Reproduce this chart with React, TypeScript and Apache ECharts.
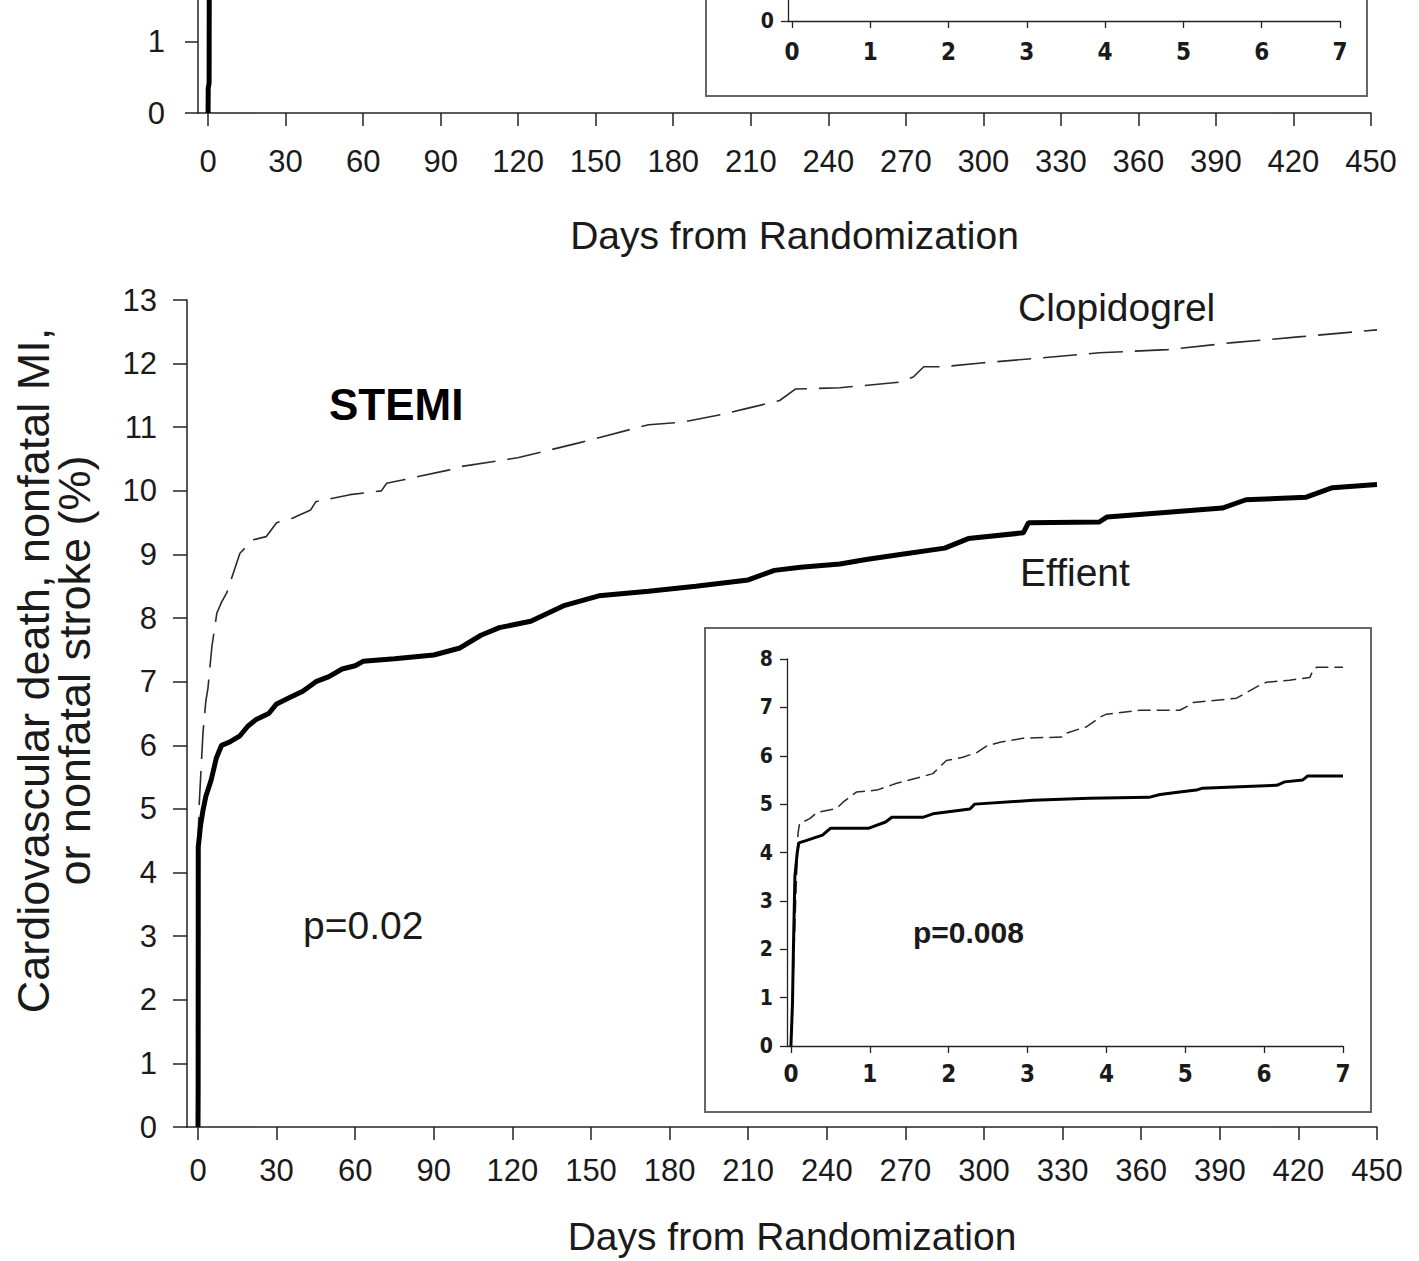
import React, { useEffect, useRef } from "react";
import * as echarts from "echarts";

// ---------- data (days, cumulative event rate %) ----------
const mainXTicks = [0, 30, 60, 90, 120, 150, 180, 210, 240, 270, 300, 330, 360, 390, 420, 450];
const mainYTicks = [0, 1, 2, 3, 4, 5, 6, 7, 8, 9, 10, 11, 12, 13];
const insetXTicks = [0, 1, 2, 3, 4, 5, 6, 7];
const insetYTicks = [0, 1, 2, 3, 4, 5, 6, 7, 8];
const topYTicks = [0, 1];
const topInsetYTicks = [0];

const effientMain: [number, number][] = [
  [0, 0], [0.05, 0.6], [0.1, 4.4], [1, 4.75], [2, 5.0], [3, 5.2], [5, 5.45], [7, 5.8], [9, 6.0],
  [12, 6.05], [16, 6.15], [19, 6.3], [22, 6.4], [27, 6.5], [30, 6.65], [35, 6.75], [40, 6.85],
  [45, 7.0], [50, 7.08], [55, 7.2], [60, 7.25], [63, 7.32], [75, 7.36], [90, 7.42], [100, 7.53],
  [108, 7.73], [115, 7.85], [127, 7.95], [140, 8.2], [153, 8.35], [172, 8.42], [190, 8.5],
  [210, 8.6], [220, 8.75], [230, 8.8], [245, 8.85], [255, 8.92], [268, 9.0], [285, 9.1],
  [294, 9.25], [315, 9.34], [317, 9.5], [344, 9.51], [347, 9.59], [391, 9.73], [400, 9.86],
  [423, 9.9], [433, 10.05], [450, 10.1],
];

const clopidogrelMain: [number, number][] = [
  [0, 0], [0.1, 4.6], [0.5, 5.1], [1.9, 6.2], [3, 6.7], [3.8, 6.9], [5.3, 7.55], [7.2, 8.08],
  [9, 8.25], [11, 8.4], [16, 9.02], [21, 9.23], [26, 9.28], [30, 9.5], [36, 9.57], [43, 9.7],
  [45, 9.83], [58, 9.94], [70, 10.0], [72, 10.12], [78, 10.17], [96, 10.33], [100, 10.38],
  [122, 10.52], [145, 10.75], [172, 11.04], [185, 11.08], [200, 11.2], [210, 11.3], [222, 11.42],
  [228, 11.6], [245, 11.62], [268, 11.71], [273, 11.79], [277, 11.95], [284, 11.95], [299, 12.01],
  [322, 12.09], [344, 12.17], [370, 12.22], [395, 12.33], [420, 12.42], [450, 12.53],
];

const effientInset: [number, number][] = [
  [0, 0], [0.02, 0.9], [0.03, 1.9], [0.05, 3.5], [0.08, 4.0], [0.1, 4.2], [0.2, 4.25], [0.4, 4.36],
  [0.5, 4.5], [0.98, 4.5], [1.2, 4.63], [1.28, 4.73], [1.68, 4.73], [1.8, 4.8], [2.27, 4.9],
  [2.33, 5.0], [3.07, 5.08], [3.78, 5.12], [4.54, 5.14], [4.68, 5.2], [4.93, 5.25], [5.14, 5.29],
  [5.22, 5.33], [5.69, 5.36], [6.16, 5.39], [6.26, 5.46], [6.49, 5.5], [6.55, 5.58], [7.0, 5.58],
];

const clopidogrelInset: [number, number][] = [
  [0, 0], [0.03, 1.5], [0.06, 3.0], [0.09, 4.4], [0.11, 4.6], [0.24, 4.7], [0.33, 4.83],
  [0.58, 4.91], [0.66, 5.04], [0.83, 5.25], [1.09, 5.29], [1.34, 5.43], [1.6, 5.54], [1.8, 5.63],
  [1.97, 5.9], [2.18, 5.97], [2.36, 6.07], [2.48, 6.2], [2.65, 6.28], [2.94, 6.36], [3.45, 6.39],
  [3.5, 6.47], [3.75, 6.6], [3.92, 6.8], [4.0, 6.86], [4.42, 6.94], [4.93, 6.94], [5.06, 7.05],
  [5.1, 7.1], [5.65, 7.19], [5.78, 7.31], [5.9, 7.42], [6.03, 7.52], [6.32, 7.56], [6.58, 7.62],
  [6.62, 7.77], [6.67, 7.83], [7.0, 7.83],
];

// remnant of the panel above (cropped)
const effientTop: [number, number][] = [[0, 0], [0.05, 0.35], [0.4, 0.42], [0.5, 3]];
const clopidogrelTop: [number, number][] = [[0, 0], [0.1, 0.3], [0.3, 3]];

const FONT = "'Liberation Sans', Arial, Helvetica, sans-serif";
const NARROW = "'Liberation Sans Narrow', 'DejaVu Sans Condensed', 'Liberation Sans', Arial, sans-serif";
const INK = "#1a1a1a";
const AXIS = "#222";

function xAx(grid: number, min: number, max: number, ticks: number[], o: any) {
  return {
    type: "value", gridIndex: grid, min, max,
    axisLine: { show: true, onZero: false, lineStyle: { color: AXIS, width: o.lw ?? 1.5 } },
    axisTick: { show: true, inside: false, length: o.tick, customValues: ticks, lineStyle: { color: AXIS, width: o.lw ?? 1.5 } },
    axisLabel: {
      show: true, customValues: ticks, margin: o.margin, color: INK,
      fontSize: o.fs, fontFamily: o.ff ?? FONT, fontWeight: o.fw ?? "normal",
    },
    splitLine: { show: false },
    name: o.name, nameLocation: "middle", nameGap: o.nameGap,
    nameTextStyle: { fontSize: 39, fontFamily: FONT, color: INK, padding: [0, 0, 0, 20] },
  };
}

function yAx(grid: number, min: number, max: number, ticks: number[], o: any) {
  return {
    type: "value", gridIndex: grid, min, max,
    axisLine: { show: true, onZero: false, lineStyle: { color: AXIS, width: o.lw ?? 1.5 } },
    axisTick: { show: true, inside: false, length: o.tick, customValues: ticks, lineStyle: { color: AXIS, width: o.lw ?? 1.5 } },
    axisLabel: {
      show: true, customValues: ticks, margin: o.margin, color: INK,
      fontSize: o.fs, fontFamily: o.ff ?? FONT, fontWeight: o.fw ?? "normal",
    },
    splitLine: { show: false },
    name: o.name, nameLocation: "middle", nameGap: o.nameGap, nameRotate: 90,
    nameTextStyle: o.nameStyle,
  };
}

export default function App() {
  const ref = useRef<HTMLDivElement>(null);

  useEffect(() => {
    if (!ref.current) return;
    const chart = echarts.init(ref.current, null, { renderer: "svg" });
    const gridBase = { show: false, containLabel: false, outerBoundsMode: "none" };
    chart.setOption({
      animation: false,
      backgroundColor: "#ffffff",
      grid: [
        { ...gridBase, left: 198, top: 0, width: 1173, height: 113 },
        { ...gridBase, left: 788, top: 0, width: 552, height: 21 },
        { ...gridBase, left: 187, top: 300, width: 1190, height: 827 },
        { ...gridBase, left: 787, top: 659, width: 556, height: 387 },
      ],
      xAxis: [
        xAx(0, -3.9, 450, mainXTicks, { tick: 13, margin: 33, fs: 31, name: "Days from Randomization", nameGap: 103 }),
        xAx(1, -0.05, 7, insetXTicks, { tick: 7, margin: 19, fs: 24, ff: NARROW, fw: "bold", lw: 1.3 }),
        xAx(2, -4.2, 450, mainXTicks, { tick: 13, margin: 28, fs: 31, name: "Days from Randomization", nameGap: 90 }),
        xAx(3, -0.05, 7, insetXTicks, { tick: 7, margin: 16, fs: 24, ff: NARROW, fw: "bold", lw: 1.3 }),
      ],
      yAxis: [
        yAx(0, 0, 1.59, topYTicks, { tick: 13, margin: 33, fs: 31 }),
        yAx(1, 0, 0.434, topInsetYTicks, { tick: 7, margin: 14, fs: 21, ff: NARROW, fw: "bold", lw: 1.3 }),
        yAx(2, 0, 13, mainYTicks, {
          tick: 14, margin: 30, fs: 31,
          name: "Cardiovascular death, nonfatal MI,\nor nonfatal stroke (%)",
          nameGap: 92,
          nameStyle: { fontSize: 45, lineHeight: 41, fontFamily: FONT, color: INK, align: "center", padding: [0, 0, 0, 86] },
        }),
        yAx(3, 0, 8, insetYTicks, { tick: 7, margin: 14, fs: 21, ff: NARROW, fw: "bold", lw: 1.3 }),
      ],
      series: [
        { name: "Effient (top)", type: "line", xAxisIndex: 0, yAxisIndex: 0, data: effientTop, symbol: "none", clip: true, lineStyle: { color: "#000", width: 5 } },
        { name: "Clopidogrel (top)", type: "line", xAxisIndex: 0, yAxisIndex: 0, data: clopidogrelTop, symbol: "none", clip: true, lineStyle: { color: "#333", width: 1.5 }, z: 1 },
        { name: "Clopidogrel", type: "line", xAxisIndex: 2, yAxisIndex: 2, data: clopidogrelMain, symbol: "none", clip: true, lineStyle: { color: "#2a2a2a", width: 1.6, type: [34, 12] } },
        { name: "Effient", type: "line", xAxisIndex: 2, yAxisIndex: 2, data: effientMain, symbol: "none", clip: true, lineStyle: { color: "#000", width: 5 } },
        { name: "Clopidogrel inset", type: "line", xAxisIndex: 3, yAxisIndex: 3, data: clopidogrelInset, symbol: "none", clip: true, lineStyle: { color: "#2a2a2a", width: 1.5, type: [13, 6] } },
        { name: "Effient inset", type: "line", xAxisIndex: 3, yAxisIndex: 3, data: effientInset, symbol: "none", clip: true, lineStyle: { color: "#000", width: 3 } },
      ],
      graphic: [
        { type: "rect", shape: { x: 706, y: -10, width: 661, height: 106 }, style: { fill: "none", stroke: "#666", lineWidth: 2 }, silent: true },
        { type: "rect", shape: { x: 705, y: 628, width: 666, height: 484 }, style: { fill: "none", stroke: "#666", lineWidth: 2 }, silent: true },
        { type: "text", x: 329, y: 404, style: { text: "STEMI", font: `bold 44px ${FONT}`, fill: "#000", align: "left", verticalAlign: "middle" } },
        { type: "text", x: 1018, y: 307, style: { text: "Clopidogrel", font: `39px ${FONT}`, fill: INK, align: "left", verticalAlign: "middle" } },
        { type: "text", x: 1020, y: 572, style: { text: "Effient", font: `39px ${FONT}`, fill: INK, align: "left", verticalAlign: "middle" } },
        { type: "text", x: 303, y: 925, style: { text: "p=0.02", font: `39px ${FONT}`, fill: INK, align: "left", verticalAlign: "middle" } },
        { type: "text", x: 913, y: 932, style: { text: "p=0.008", font: `bold 30px ${FONT}`, fill: INK, align: "left", verticalAlign: "middle" } },
      ],
    });
    return () => chart.dispose();
  }, []);

  return (
    <div style={{ position: "absolute", left: 0, top: 0, width: 1419, height: 1261, background: "#fff" }}>
      <div ref={ref} style={{ width: 1419, height: 1261 }} />
    </div>
  );
}
